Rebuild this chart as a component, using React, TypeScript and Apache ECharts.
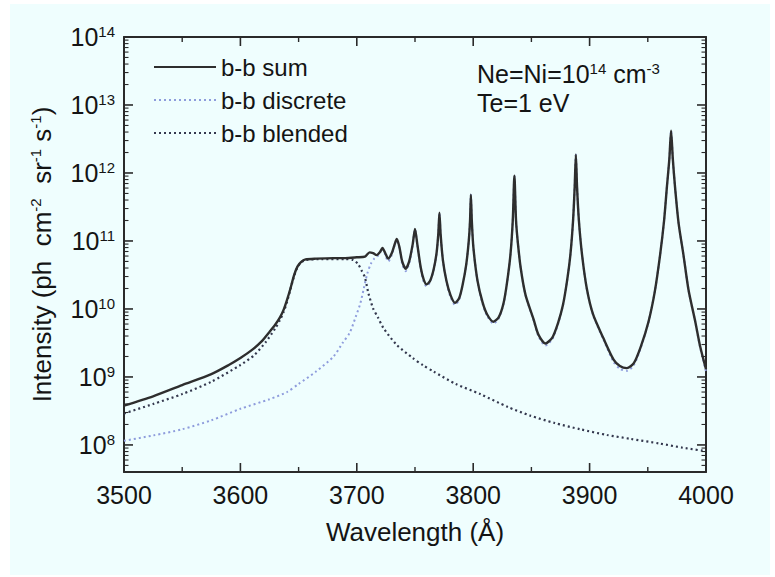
import React, { useEffect, useRef } from "react";
import * as echarts from "echarts";

// Wavelength (Å), intensity (ph cm^-2 sr^-1 s^-1)
const sumData: [number, number][] = [
  [3500, 3.8e8], [3525, 5.2e8], [3550, 7.6e8], [3575, 1.1e9], [3590, 1.5e9],
  [3600, 1.9e9], [3610, 2.5e9], [3618, 3.3e9], [3625, 4.6e9], [3630, 5.9e9],
  [3634, 7.5e9], [3637, 9.6e9], [3640, 1.35e10], [3643, 2.0e10], [3646, 3.1e10],
  [3649, 4.2e10], [3652, 4.9e10], [3656, 5.35e10], [3665, 5.5e10], [3680, 5.6e10],
  [3690, 5.6e10], [3700, 5.75e10], [3707, 5.9e10], [3711, 6.8e10], [3714, 6.6e10],
  [3717, 6.2e10], [3720, 6.9e10], [3722, 7.9e10], [3724.5, 6.6e10], [3727, 5.5e10],
  [3730, 6.6e10], [3732.5, 8.9e10], [3734.3, 1.07e11], [3736.5, 8.3e10], [3739, 5.0e10],
  [3742, 3.9e10], [3745, 5.0e10], [3748, 8.9e10], [3750, 1.5e11], [3752, 8.9e10],
  [3755, 4.0e10], [3757.5, 2.7e10], [3760, 2.3e10], [3763, 2.6e10], [3766, 3.8e10],
  [3768.5, 6.6e10], [3770, 1.26e11], [3771, 2.6e11], [3772, 1.26e11], [3774, 5.2e10],
  [3777, 2.6e10], [3780.5, 1.6e10], [3784.4, 1.23e10], [3788, 1.45e10], [3791, 2.3e10],
  [3794, 4.5e10], [3796.2, 1.0e11], [3797.3, 2.0e11], [3798, 4.8e11], [3798.8, 2.0e11],
  [3800.2, 7.9e10], [3803.7, 2.6e10], [3808, 1.26e10], [3812, 8.3e9], [3817.4, 6.5e9],
  [3822, 7.6e9], [3826, 1.2e10], [3829, 2.4e10], [3832, 6.3e10], [3834, 2.0e11],
  [3835.4, 9.1e11], [3836.8, 2.0e11], [3838.5, 8.9e10], [3841, 3.8e10], [3845, 1.6e10],
  [3851.8, 7.1e9], [3856, 4.2e9], [3862, 3.1e9], [3868, 3.8e9], [3873, 6.3e9],
  [3877, 1.12e10], [3880.5, 2.5e10], [3883.5, 6.3e10], [3885.8, 2.0e11], [3887.2, 6.3e11],
  [3888.2, 1.86e12], [3889.2, 6.3e11], [3890.8, 2.0e11], [3893.5, 6.3e10], [3897.6, 2.0e10],
  [3903, 8.3e9], [3911.9, 3.7e9], [3920.6, 1.8e9], [3926, 1.45e9], [3932, 1.35e9],
  [3938, 1.6e9], [3944, 2.8e9], [3950.6, 6.5e9], [3956, 1.8e10], [3960.6, 6.3e10],
  [3964, 2.0e11], [3966.4, 6.2e11], [3968.5, 1.6e12], [3970, 4.2e12], [3971.5, 1.6e12],
  [3973.4, 6.2e11], [3976.5, 1.8e11], [3980.6, 6.3e10], [3985, 1.9e10], [3990.8, 6.5e9],
  [3995, 2.8e9], [4000, 1.3e9],
];

const discreteData: [number, number][] = [
  [3500, 1.15e8], [3525, 1.38e8], [3550, 1.7e8], [3575, 2.3e8], [3600, 3.4e8],
  [3625, 4.7e8], [3640, 6.0e8], [3650, 7.9e8], [3665, 1.2e9], [3680, 2.0e9],
  [3688, 3.2e9], [3694, 4.5e9], [3699, 7.6e9], [3703, 1.2e10], [3706, 2.0e10],
  [3709, 3.3e10], [3712, 4.6e10], [3715, 5.5e10], [3718, 6.0e10], [3720, 6.8e10],
  [3722, 7.8e10], [3724.5, 6.2e10], [3727, 5.0e10], [3730, 6.2e10], [3732.5, 8.6e10],
  [3734.3, 1.04e11], [3736.5, 8.0e10], [3739, 4.6e10], [3742, 3.6e10], [3745, 4.7e10],
  [3748, 8.7e10], [3750, 1.48e11], [3752, 8.7e10], [3755, 3.8e10], [3757.5, 2.5e10],
  [3760, 2.15e10], [3763, 2.5e10], [3766, 3.7e10], [3768.5, 6.5e10], [3770, 1.25e11],
  [3771, 2.6e11], [3772, 1.25e11], [3774, 5.1e10], [3777, 2.5e10], [3780.5, 1.5e10],
  [3784.4, 1.15e10], [3788, 1.38e10], [3791, 2.25e10], [3794, 4.45e10], [3796.2, 1.0e11],
  [3797.3, 2.0e11], [3798, 4.8e11], [3798.8, 2.0e11], [3800.2, 7.8e10], [3803.7, 2.55e10],
  [3808, 1.2e10], [3812, 7.9e9], [3817.4, 6.1e9], [3822, 7.3e9], [3826, 1.17e10],
  [3829, 2.37e10], [3832, 6.27e10], [3834, 2.0e11], [3835.4, 9.1e11], [3836.8, 2.0e11],
  [3838.5, 8.87e10], [3841, 3.77e10], [3845, 1.58e10], [3851.8, 6.9e9], [3856, 4.0e9],
  [3862, 2.9e9], [3868, 3.6e9], [3873, 6.1e9], [3877, 1.1e10], [3880.5, 2.48e10],
  [3883.5, 6.28e10], [3885.8, 2.0e11], [3887.2, 6.3e11], [3888.2, 1.86e12], [3889.2, 6.3e11],
  [3890.8, 2.0e11], [3893.5, 6.28e10], [3897.6, 1.98e10], [3903, 8.15e9], [3911.9, 3.55e9],
  [3920.6, 1.66e9], [3926, 1.32e9], [3932, 1.23e9], [3938, 1.49e9], [3944, 2.7e9],
  [3950.6, 6.4e9], [3956, 1.79e10], [3960.6, 6.3e10], [3964, 2.0e11], [3966.4, 6.2e11],
  [3968.5, 1.6e12], [3970, 4.2e12], [3971.5, 1.6e12], [3973.4, 6.2e11], [3976.5, 1.8e11],
  [3980.6, 6.3e10], [3985, 1.89e10], [3990.8, 6.4e9], [3995, 2.7e9], [4000, 1.2e9],
];

const blendedData: [number, number][] = [
  [3500, 2.9e8], [3525, 4.0e8], [3550, 5.6e8], [3575, 8.5e8], [3600, 1.5e9],
  [3612, 2.1e9], [3622, 3.3e9], [3630, 5.2e9], [3634, 6.9e9], [3637, 8.9e9],
  [3640, 1.26e10], [3643, 1.95e10], [3646, 3.0e10], [3649, 4.1e10], [3652, 4.8e10],
  [3656, 5.25e10], [3670, 5.4e10], [3690, 5.4e10], [3697, 5.25e10], [3701, 4.6e10],
  [3704, 3.7e10], [3707, 2.9e10], [3710, 1.7e10], [3714, 1.02e10], [3718, 7.6e9],
  [3723, 5.2e9], [3734, 3.0e9], [3748, 1.9e9], [3757, 1.48e9], [3766, 1.2e9],
  [3785, 7.9e8], [3806, 5.6e8], [3830, 3.6e8], [3849, 2.7e8], [3870, 2.1e8],
  [3892, 1.7e8], [3915, 1.4e8], [3935, 1.23e8], [3960, 1.05e8], [3980, 9.1e7],
  [4000, 8.1e7],
];

const seriesNames = ["b-b sum", "b-b discrete", "b-b blended"];
const xMin = 3500;
const xMax = 4000;
const xInterval = 100;
const yMin = 4e7;
const yMax = 1e14;

// Tick positions, drawn inside the frame on all four sides
const xMajorTicks = [3500, 3600, 3700, 3800, 3900, 4000];
const xMinorTicks = [3550, 3650, 3750, 3850, 3950];
const yMajorTicks = [1e8, 1e9, 1e10, 1e11, 1e12, 1e13, 1e14];
const yMinorMultipliers = [2, 3, 4, 5, 6, 7, 8, 9];
const yMinorBelowFirst = [5e7, 6e7, 7e7, 8e7, 9e7];

const FONT = "Liberation Sans, Arial, Helvetica, sans-serif";
const TEXT = "#141414";
const AXIS = "#2a2a2a";

function yLabel(v: number): string {
  const l = Math.log10(v);
  const e = Math.round(l);
  if (Math.abs(l - e) > 1e-3) return "";
  return `{b|10}{s|${e}}`;
}

function richParts(colorKey: "color" | "fill", size = 25) {
  return {
    a: { fontSize: size, fontFamily: FONT, [colorKey]: TEXT, lineHeight: size + 1 },
    b: { fontSize: size, fontFamily: FONT, [colorKey]: TEXT, lineHeight: size + 1 },
    s: { fontSize: 15, fontFamily: FONT, [colorKey]: TEXT, lineHeight: 15, verticalAlign: "top" },
  };
}

function xAxisDef(position: "bottom" | "top", withLabels: boolean) {
  return {
    type: "value",
    min: xMin,
    max: xMax,
    interval: xInterval,
    position,
    axisLine: { show: true, lineStyle: { color: AXIS, width: 2 } },
    axisTick: { show: false },
    splitLine: { show: false },
    axisLabel: withLabels
      ? { show: true, margin: 10, fontSize: 25, fontFamily: FONT, color: TEXT, formatter: (v: number) => String(v) }
      : { show: false },
  };
}

function yAxisDef(position: "left" | "right", withLabels: boolean) {
  return {
    type: "log",
    logBase: 10,
    min: yMin,
    max: yMax,
    position,
    axisLine: { show: true, lineStyle: { color: AXIS, width: 2 } },
    axisTick: { show: false },
    splitLine: { show: false },
    axisLabel: withLabels
      ? { show: true, margin: 9, formatter: yLabel, rich: richParts("color") }
      : { show: false },
  };
}

export default function App() {
  const ref = useRef<HTMLDivElement>(null);

  useEffect(() => {
    if (!ref.current) return;
    const chart = echarts.init(ref.current, undefined, { renderer: "svg" });

    const texts = [
      {
        type: "text",
        x: 467,
        y: 57,
        style: { text: "{a|Ne=Ni=10}{s|14}{a| cm}{s|-3}", rich: richParts("fill") },
      },
      {
        type: "text",
        x: 467,
        y: 86,
        style: { text: "{a|Te=1 eV}", rich: richParts("fill") },
      },
    ];

    chart.setOption({
      animation: false,
      backgroundColor: "#effefe",
      graphic: texts,
      grid: { left: 114, right: 64, top: 33, bottom: 103 },
      legend: {
        orient: "vertical",
        left: 143,
        top: 51,
        padding: 0,
        itemGap: 9,
        itemWidth: 62,
        itemHeight: 14,
        data: seriesNames,
        itemStyle: { opacity: 0 },
        textStyle: { fontSize: 24, fontFamily: FONT, color: TEXT },
      },
      xAxis: [
        {
          ...xAxisDef("bottom", true),
          name: "Wavelength (Å)",
          nameLocation: "middle",
          nameGap: 47,
          nameTextStyle: { fontSize: 26, fontFamily: FONT, color: TEXT },
        },
        xAxisDef("top", false),
      ],
      yAxis: [
        {
          ...yAxisDef("left", true),
          name: "{a|Intensity (ph  cm}{s|-2}{a|  sr}{s|-1}{a| s}{s|-1}{a|)}",
          nameLocation: "middle",
          nameGap: 69,
          nameRotate: 90,
          nameTextStyle: { rich: richParts("color", 26) },
        },
        yAxisDef("right", false),
      ],
      series: [
        {
          name: seriesNames[1],
          type: "line",
          data: discreteData,
          showSymbol: false,
          smooth: 0.25,
          lineStyle: { color: "#8e9cdc", width: 2, type: [2, 3] },
          itemStyle: { color: "#8e9cdc" },
        },
        {
          name: seriesNames[2],
          type: "line",
          data: blendedData,
          showSymbol: false,
          smooth: 0.25,
          lineStyle: { color: "#34384e", width: 2.2, type: [2, 3] },
          itemStyle: { color: "#34384e" },
        },
        {
          name: seriesNames[0],
          type: "line",
          data: sumData,
          showSymbol: false,
          smooth: 0.25,
          lineStyle: { color: "#2e2e2e", width: 2.4 },
          itemStyle: { color: "#2e2e2e" },
        },
      ],
    });

    // Tick marks placed through the axes' own scales.
    const px = (v: number) => chart.convertToPixel({ xAxisIndex: 0 }, v) as number;
    const py = (v: number) => chart.convertToPixel({ yAxisIndex: 0 }, v) as number;
    const left = px(xMin);
    const right = px(xMax);
    const top = py(yMax);
    const bottom = py(yMin);

    const yMinorTicks: number[] = [...yMinorBelowFirst];
    yMajorTicks.slice(0, -1).forEach((d) => yMinorMultipliers.forEach((m) => yMinorTicks.push(d * m)));

    const seg = (x1: number, y1: number, x2: number, y2: number, w: number) => ({
      type: "line",
      silent: true,
      z: 100,
      shape: { x1, y1, x2, y2 },
      style: { stroke: AXIS, lineWidth: w },
    });

    const ticks: any[] = [];
    if (isFinite(left) && isFinite(bottom)) {
      xMajorTicks.forEach((v) => {
        const x = px(v);
        ticks.push(seg(x, bottom, x, bottom - 9, 1.6), seg(x, top, x, top + 9, 1.6));
      });
      xMinorTicks.forEach((v) => {
        const x = px(v);
        ticks.push(seg(x, bottom, x, bottom - 5, 1.4), seg(x, top, x, top + 5, 1.4));
      });
      yMajorTicks.forEach((v) => {
        const y = py(v);
        ticks.push(seg(left, y, left + 9, y, 1.6), seg(right, y, right - 9, y, 1.6));
      });
      yMinorTicks.forEach((v) => {
        const y = py(v);
        ticks.push(seg(left, y, left + 4.5, y, 1.1), seg(right, y, right - 4.5, y, 1.1));
      });
    }

    chart.setOption({ graphic: [...texts, ...ticks] });

    return () => chart.dispose();
  }, []);

  return (
    <div style={{ position: "absolute", left: 0, top: 0, width: 775, height: 577, background: "#ffffff" }}>
      <div ref={ref} style={{ position: "absolute", left: 10, top: 4, width: 760, height: 571 }} />
    </div>
  );
}
